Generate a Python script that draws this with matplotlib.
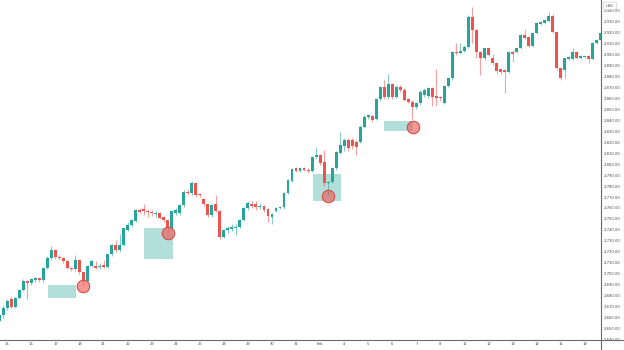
import numpy as np
import matplotlib
matplotlib.use("Agg")
import matplotlib.pyplot as plt
from matplotlib.lines import Line2D
from matplotlib.patches import Rectangle, FancyBboxPatch

# ─── Data: XAUUSD 4H candles, index 0 = first bar of Jan 15 ──────────────────

BAR_INDEX = np.arange(-2, 149)

OPENS = [
    2657, 2663, 2669, 2677, 2670, 2678, 2685, 2693.5, 2691.5, 2694.5,
    2696, 2694.5, 2705, 2714.7, 2721.5, 2715.6, 2714.1, 2711.7, 2705, 2704.4,
    2712.6, 2701.3, 2693.5, 2707, 2707.4, 2706, 2708, 2706, 2717.7, 2726.2,
    2721.7, 2726.2, 2740, 2744.5, 2748, 2758.1, 2758.7, 2757, 2756.5, 2754.2,
    2755, 2752.1, 2749, 2741.4, 2755, 2755, 2762.7, 2775, 2773.5, 2782.5,
    2773, 2768, 2763.3, 2753.3, 2763.3, 2757.2, 2733.8, 2739.9, 2741, 2742,
    2743, 2749, 2759.6, 2763.6, 2763.6, 2760.5, 2761.8, 2758.7, 2751.5, 2757.5,
    2760, 2760.5, 2773.3, 2784.8, 2796.1, 2794, 2796, 2795, 2793.3, 2806.1,
    2808.2, 2802.1, 2782.4, 2783.9, 2796.1, 2810.3, 2816, 2822, 2822, 2820.4,
    2820, 2834, 2842.5, 2843.8, 2841, 2858.9, 2869.9, 2860.8, 2872.9, 2861,
    2870.5, 2867.4, 2858.9, 2856.8, 2852.3, 2855.3, 2863, 2862, 2868.9, 2862,
    2861, 2856, 2871.1, 2878.1, 2902.3, 2901.4, 2903.3, 2906.9, 2934.2, 2922.1,
    2902.3, 2896.3, 2905.4, 2896.3, 2892.3, 2886.3, 2886, 2884.1, 2902.3, 2902,
    2905.4, 2917.5, 2915.4, 2907.5, 2919, 2927.5, 2928.8, 2930.6, 2934.8, 2920.6,
    2887.2, 2885.6, 2895.4, 2895.4, 2902.3, 2896.3, 2897.2, 2898.4, 2895.4, 2910.5,
    2913,
]
HIGHS = [
    2665, 2672, 2677, 2679, 2679, 2686, 2695, 2694.5, 2696.5, 2697,
    2697, 2706, 2716, 2725.6, 2722.5, 2717, 2715, 2713, 2706, 2717,
    2714, 2702, 2708, 2713, 2712, 2710, 2713, 2717.7, 2727, 2731,
    2736, 2742, 2747.5, 2750, 2759, 2760, 2763.3, 2759, 2758, 2757,
    2756, 2753, 2750, 2758, 2760.2, 2764, 2776, 2777, 2785, 2783,
    2774, 2769, 2764, 2764, 2771.8, 2758, 2741, 2744, 2745, 2745,
    2750, 2760.5, 2766, 2766, 2766, 2765, 2763, 2760, 2755.5, 2761,
    2762, 2775, 2786.5, 2796.5, 2797, 2797.5, 2797, 2796, 2807, 2815.8,
    2809, 2812.8, 2785, 2797, 2812, 2829.5, 2824, 2824, 2824, 2822,
    2835.5, 2845, 2846, 2845, 2860, 2871, 2876.5, 2882, 2874, 2872,
    2872, 2869, 2860, 2858, 2856.5, 2867, 2869, 2870, 2870, 2886.3,
    2862, 2872, 2879, 2903, 2910.5, 2910.5, 2908, 2935.7, 2942.7, 2923,
    2903, 2906, 2907, 2900, 2893, 2887, 2887, 2903, 2904, 2906,
    2918.5, 2922.7, 2916, 2920, 2929, 2930.5, 2932, 2938.8, 2937, 2921.5,
    2888, 2897, 2898.5, 2905.4, 2903, 2899.5, 2899.5, 2899, 2911, 2914,
    2920,
]
LOWS = [
    2654, 2660, 2667, 2669, 2669, 2677, 2684, 2677, 2690, 2693,
    2693, 2693, 2704, 2713, 2714, 2713, 2710, 2704, 2703, 2703,
    2700, 2690, 2692, 2706, 2704, 2704, 2705, 2705, 2716, 2720,
    2720, 2725, 2739, 2743, 2747, 2755, 2754, 2752, 2753, 2752,
    2750, 2747, 2738, 2740, 2754, 2754, 2761, 2772, 2772, 2770,
    2770, 2762, 2752, 2752, 2756, 2731.7, 2733, 2737, 2739, 2735.4,
    2742, 2748, 2758, 2760, 2758, 2759, 2756, 2747.5, 2745, 2756,
    2759, 2759.5, 2772.5, 2784, 2793, 2793, 2793.5, 2792, 2792.5, 2805,
    2799.5, 2780, 2772, 2783, 2795, 2809, 2812, 2812, 2814, 2808.2,
    2819, 2833, 2841, 2838, 2840, 2857.5, 2859.5, 2859.5, 2859.5, 2860,
    2866, 2857, 2855.5, 2841, 2850, 2854, 2861, 2860, 2853, 2853,
    2857, 2855, 2870, 2877, 2899.5, 2900, 2902, 2906, 2910, 2896.3,
    2881.1, 2895, 2898, 2890, 2883, 2882, 2864.4, 2883, 2893.2, 2901,
    2904.5, 2913.5, 2906.5, 2906.5, 2918, 2926.5, 2928, 2929.5, 2919.5, 2886,
    2876.5, 2878, 2894.5, 2894.5, 2895.5, 2895.5, 2896.5, 2891.7, 2894.5, 2909.5,
    2912,
]
CLOSES = [
    2663, 2669, 2675, 2670, 2678, 2685, 2693.5, 2691.5, 2695.3, 2696,
    2694.5, 2705, 2714.7, 2721.7, 2715.6, 2714.1, 2711.7, 2705, 2704.4, 2712.6,
    2701.3, 2693.5, 2707.4, 2711.7, 2705.6, 2707.5, 2706, 2717.7, 2726.2, 2721.7,
    2726.2, 2741.4, 2744.5, 2749, 2758.1, 2756.6, 2757, 2756, 2755.1, 2755.7,
    2751.1, 2749, 2741.4, 2757, 2758.1, 2762.7, 2774.8, 2773.5, 2782.5, 2771.8,
    2771.8, 2763.3, 2753.3, 2762.7, 2757.2, 2733.8, 2739.9, 2741.4, 2742.9, 2743,
    2749, 2759.6, 2764.2, 2761.8, 2760.5, 2761.8, 2758.1, 2752.7, 2754.5, 2760.2,
    2761.2, 2773.9, 2785.4, 2795.2, 2794, 2796.1, 2794.5, 2793.3, 2806.1, 2808.2,
    2800.6, 2782.4, 2783.9, 2796.1, 2811.2, 2817.3, 2822, 2815, 2816, 2815.8,
    2834, 2843.2, 2844.7, 2840.1, 2858.9, 2869.9, 2860.8, 2872.9, 2860.8, 2870,
    2867.4, 2858.3, 2856.8, 2852.3, 2855.3, 2865.9, 2867.4, 2868.9, 2861.4, 2860,
    2859.8, 2871.1, 2878.1, 2902.3, 2900.8, 2903.3, 2906.9, 2934.2, 2922.1, 2902.3,
    2896.3, 2905.4, 2899.3, 2892.3, 2885, 2884.1, 2884, 2902.3, 2900.2, 2905.4,
    2917.5, 2914.5, 2907.5, 2919, 2928.1, 2929.7, 2931.2, 2934.8, 2920.6, 2887.2,
    2878.1, 2896.3, 2897.2, 2902.3, 2896.3, 2898.4, 2898.4, 2895.4, 2909.9, 2913,
    2919,
]

# session labels on the time axis (bar index = 6 * position)
DAY_LABELS = ["15", "16", "17", "18", "21", "22", "23", "24", "25", "28", "29",
              "30", "31", "Feb", "4", "5", "6", "7", "8", "11", "12", "13",
              "14", "15", "18"]

PRICE_TICKS = np.arange(2640, 2950, 10)

# highlighted zones (bar index span, price span) and the touch points
ZONE_START = [10.1, 34.1, 76.2, 94.0]
ZONE_END = [17.1, 41.2, 83.2, 101.1]
ZONE_LOW = [2678.3, 2713.5, 2766.4, 2830.4]
ZONE_HIGH = [2689.9, 2741.5, 2790.9, 2839.2]
TOUCH_BAR = [19.0, 40.0, 80.0, 101.1]
TOUCH_PRICE = [2689.0, 2736.9, 2771.2, 2834.0]

UP = "#26a69a"
DOWN = "#ef5350"

# ─── Figure ───────────────────────────────────────────────────────────────────

W, H = 624, 350
fig = plt.figure(figsize=(W / 100, H / 100), dpi=100)
fig.patch.set_facecolor("white")
ax = fig.add_axes([0, 10 / H, 601 / W, 340 / H])
ax.set_xlim(-1.82, 148.05)
ax.set_ylim(2639.8, 2949.4)
for s in ax.spines.values():
    s.set_visible(False)

# zones first so candles sit on top
for x0, x1, lo, hi in zip(ZONE_START, ZONE_END, ZONE_LOW, ZONE_HIGH):
    ax.add_patch(Rectangle((x0, lo), x1 - x0, hi - lo, facecolor=UP,
                           alpha=0.35, edgecolor="none", zorder=1))

o = np.array(OPENS)
h = np.array(HIGHS)
l = np.array(LOWS)
c = np.array(CLOSES)
colors = np.where(c >= o, UP, DOWN)

ax.vlines(BAR_INDEX, l, h, colors=colors, linewidth=0.8, alpha=0.55, zorder=2)
body_lo = np.minimum(o, c)
body_h = np.maximum(np.abs(c - o), 0.9)
ax.bar(BAR_INDEX, body_h, bottom=body_lo, width=0.72, color=colors,
       linewidth=0, zorder=3)

ax.scatter(TOUCH_BAR, TOUCH_PRICE, s=80, facecolor=(0.937, 0.325, 0.314, 0.6),
           edgecolor="#d84a4a", linewidth=0.8, zorder=4)

# axes: prices on the right, sessions at the bottom
ax.yaxis.tick_right()
ax.set_yticks(PRICE_TICKS)
ax.set_yticklabels([f"{v:,.2f}" for v in PRICE_TICKS])
ax.set_xticks(np.arange(len(DAY_LABELS)) * 6)
ax.set_xticklabels(DAY_LABELS)
ax.tick_params(axis="y", length=0, pad=2.2, labelsize=2.7, labelcolor="#4a4a4a")
ax.tick_params(axis="x", length=0, pad=1.6, labelsize=2.7, labelcolor="#4a4a4a")

fig.add_artist(Line2D([601 / W, 601 / W], [0, 1], color="#6a6a6a", lw=0.8))
fig.add_artist(Line2D([0, 1], [10 / H, 10 / H], color="#6a6a6a", lw=0.8))

# currency badge in the corner of the price scale
badge = FancyBboxPatch((603.5 / W, 1 - 9.5 / H), 13 / W, 7.5 / H,
                       boxstyle="round,pad=0,rounding_size=0.004",
                       transform=fig.transFigure, facecolor="white",
                       edgecolor="#cfcfcf", linewidth=0.5, zorder=10)
fig.add_artist(badge)
fig.text(610 / W, 1 - 5.6 / H, "USD", fontsize=2.6, color="#4a4a4a",
         ha="center", va="center", zorder=11)

fig.savefig("out.png", dpi=100)
